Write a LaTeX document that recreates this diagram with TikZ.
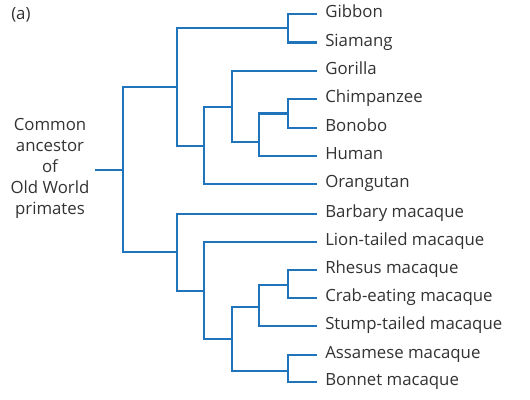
\documentclass[tikz,border=0pt]{standalone}
\usepackage{fontspec}
\setmainfont{Open Sans}
\definecolor{treeblue}{HTML}{1F74BC}
\definecolor{txtgray}{HTML}{333333}
\begin{document}
\begin{tikzpicture}[x=0.75pt,y=-0.75pt,
  branch/.style={draw=treeblue,line width=1.6pt},
  leaflabel/.style={anchor=mid west,inner sep=0pt,text=txtgray,font=\fontsize{12.6}{14}\selectfont},
  rootlabel/.style={align=center,inner sep=0pt,text=txtgray,font=\fontsize{12.6}{15.9}\selectfont}]
\useasboundingbox[fill=white] (0,0) rectangle (530,399);
\node[anchor=mid west,inner sep=0pt,text=txtgray,font=\fontsize{12.6}{14}\selectfont] (lab) at (11,16) {(a)};
% root label
\node[rootlabel] (anc) at (50,168.5) {Common\\ancestor\\of\\Old World\\primates};
\coordinate (s) at (95,170);
% internal nodes
\coordinate (r) at (122.7,170);
\coordinate (A) at (176.7,87.3);
\coordinate (Hy) at (288.3,28.3);
\coordinate (Gr) at (204,146);
\coordinate (Go) at (231.7,107.3);
\coordinate (Hu) at (259.3,142.3);
\coordinate (Ch) at (288.3,113.5);
\coordinate (M) at (176.7,252.3);
\coordinate (Lt) at (204,291.3);
\coordinate (Mc) at (231.7,339);
\coordinate (Rs) at (259.3,307.3);
\coordinate (Rc) at (288.3,285.3);
\coordinate (Ab) at (288.3,370.7);
% leaves
\foreach \n/\y/\t in {l1/14/Gibbon,l2/42.5/Siamang,l3/70.7/Gorilla,l4/99.3/Chimpanzee,l5/127.7/Bonobo,l6/156/Human,l7/184.3/Orangutan,l8/213.7/Barbary macaque,l9/241.7/Lion-tailed macaque,l10/269.7/Rhesus macaque,l11/298.3/Crab-eating macaque,l12/326.3/Stump-tailed macaque,l13/355/Assamese macaque,l14/382.3/Bonnet macaque}{
  \coordinate (\n) at (316.7,\y);
  \node[leaflabel] (t\n) at (325,\y) {\t};
}
% branches
\draw[branch] (s) -- (r);
\draw[branch] (r) |- (A);
\draw[branch] (r) |- (M);
\draw[branch] (A) |- (Hy);
\draw[branch] (A) |- (Gr);
\draw[branch] (Hy) |- (l1);
\draw[branch] (Hy) |- (l2);
\draw[branch] (Gr) |- (Go);
\draw[branch] (Gr) |- (l7);
\draw[branch] (Go) |- (l3);
\draw[branch] (Go) |- (Hu);
\draw[branch] (Hu) |- (Ch);
\draw[branch] (Hu) |- (l6);
\draw[branch] (Ch) |- (l4);
\draw[branch] (Ch) |- (l5);
\draw[branch] (M) |- (l8);
\draw[branch] (M) |- (Lt);
\draw[branch] (Lt) |- (l9);
\draw[branch] (Lt) |- (Mc);
\draw[branch] (Mc) |- (Rs);
\draw[branch] (Mc) |- (Ab);
\draw[branch] (Rs) |- (Rc);
\draw[branch] (Rs) |- (l12);
\draw[branch] (Rc) |- (l10);
\draw[branch] (Rc) |- (l11);
\draw[branch] (Ab) |- (l13);
\draw[branch] (Ab) |- (l14);
\end{tikzpicture}
\end{document}
